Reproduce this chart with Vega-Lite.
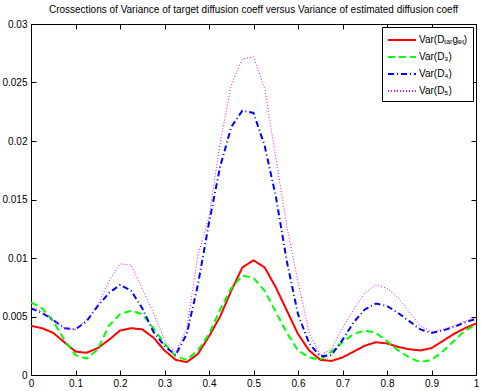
{
  "$schema": "https://vega.github.io/schema/vega-lite/v6.json",
  "width": 445,
  "height": 351,
  "autosize": {"type": "none"},
  "padding": {"left": 31, "top": 24, "right": 6, "bottom": 16},
  "title": {"text": "Crossections of Variance of target diffusion coeff versus Variance of estimated diffusion coeff", "fontSize": 10, "fontWeight": "normal", "font": "Liberation Sans", "color": "black", "offset": 4},
  "config": {
    "view": {"stroke": "black", "strokeWidth": 1},
    "axis": {"grid": false, "domainColor": "black", "tickColor": "black", "tickSize": -5, "labelFont": "Liberation Sans", "labelFontSize": 10, "labelColor": "black", "title": null, "domain": true},
    "legend": {"labelFont": "Liberation Sans", "labelFontSize": 10, "labelColor": "black"}
  },
  "datasets": {
    "d": [
      {"x":0,"v":0.0042,"s":"Var(Dtarget)"},{"x":0.025,"v":0.0040,"s":"Var(Dtarget)"},{"x":0.05,"v":0.0036,"s":"Var(Dtarget)"},{"x":0.075,"v":0.0028,"s":"Var(Dtarget)"},{"x":0.1,"v":0.0020,"s":"Var(Dtarget)"},{"x":0.125,"v":0.0019,"s":"Var(Dtarget)"},{"x":0.15,"v":0.0023,"s":"Var(Dtarget)"},{"x":0.175,"v":0.0030,"s":"Var(Dtarget)"},{"x":0.2,"v":0.0038,"s":"Var(Dtarget)"},{"x":0.225,"v":0.0040,"s":"Var(Dtarget)"},{"x":0.25,"v":0.0039,"s":"Var(Dtarget)"},{"x":0.275,"v":0.0032,"s":"Var(Dtarget)"},{"x":0.3,"v":0.0021,"s":"Var(Dtarget)"},{"x":0.325,"v":0.0013,"s":"Var(Dtarget)"},{"x":0.35,"v":0.0011,"s":"Var(Dtarget)"},{"x":0.375,"v":0.0018,"s":"Var(Dtarget)"},{"x":0.4,"v":0.0033,"s":"Var(Dtarget)"},{"x":0.425,"v":0.0050,"s":"Var(Dtarget)"},{"x":0.45,"v":0.0072,"s":"Var(Dtarget)"},{"x":0.475,"v":0.0092,"s":"Var(Dtarget)"},{"x":0.5,"v":0.0098,"s":"Var(Dtarget)"},{"x":0.525,"v":0.0092,"s":"Var(Dtarget)"},{"x":0.55,"v":0.0075,"s":"Var(Dtarget)"},{"x":0.575,"v":0.0055,"s":"Var(Dtarget)"},{"x":0.6,"v":0.0035,"s":"Var(Dtarget)"},{"x":0.625,"v":0.0021,"s":"Var(Dtarget)"},{"x":0.65,"v":0.0013,"s":"Var(Dtarget)"},{"x":0.675,"v":0.0012,"s":"Var(Dtarget)"},{"x":0.7,"v":0.0015,"s":"Var(Dtarget)"},{"x":0.725,"v":0.0020,"s":"Var(Dtarget)"},{"x":0.75,"v":0.0025,"s":"Var(Dtarget)"},{"x":0.775,"v":0.0028,"s":"Var(Dtarget)"},{"x":0.8,"v":0.0027,"s":"Var(Dtarget)"},{"x":0.825,"v":0.0024,"s":"Var(Dtarget)"},{"x":0.85,"v":0.0022,"s":"Var(Dtarget)"},{"x":0.875,"v":0.0021,"s":"Var(Dtarget)"},{"x":0.9,"v":0.0023,"s":"Var(Dtarget)"},{"x":0.925,"v":0.0029,"s":"Var(Dtarget)"},{"x":0.95,"v":0.0035,"s":"Var(Dtarget)"},{"x":0.975,"v":0.0040,"s":"Var(Dtarget)"},{"x":1,"v":0.0044,"s":"Var(Dtarget)"},
      {"x":0,"v":0.0062,"s":"Var(D3)"},{"x":0.025,"v":0.0057,"s":"Var(D3)"},{"x":0.05,"v":0.0046,"s":"Var(D3)"},{"x":0.075,"v":0.0030,"s":"Var(D3)"},{"x":0.1,"v":0.0017,"s":"Var(D3)"},{"x":0.125,"v":0.0014,"s":"Var(D3)"},{"x":0.15,"v":0.0022,"s":"Var(D3)"},{"x":0.175,"v":0.0042,"s":"Var(D3)"},{"x":0.2,"v":0.0052,"s":"Var(D3)"},{"x":0.225,"v":0.0055,"s":"Var(D3)"},{"x":0.25,"v":0.0052,"s":"Var(D3)"},{"x":0.275,"v":0.0040,"s":"Var(D3)"},{"x":0.3,"v":0.0027,"s":"Var(D3)"},{"x":0.325,"v":0.0016,"s":"Var(D3)"},{"x":0.35,"v":0.0013,"s":"Var(D3)"},{"x":0.375,"v":0.0021,"s":"Var(D3)"},{"x":0.4,"v":0.0035,"s":"Var(D3)"},{"x":0.425,"v":0.0056,"s":"Var(D3)"},{"x":0.45,"v":0.0074,"s":"Var(D3)"},{"x":0.475,"v":0.0085,"s":"Var(D3)"},{"x":0.5,"v":0.0083,"s":"Var(D3)"},{"x":0.525,"v":0.0072,"s":"Var(D3)"},{"x":0.55,"v":0.0054,"s":"Var(D3)"},{"x":0.575,"v":0.0036,"s":"Var(D3)"},{"x":0.6,"v":0.0021,"s":"Var(D3)"},{"x":0.625,"v":0.0015,"s":"Var(D3)"},{"x":0.65,"v":0.0013,"s":"Var(D3)"},{"x":0.675,"v":0.0020,"s":"Var(D3)"},{"x":0.7,"v":0.0028,"s":"Var(D3)"},{"x":0.725,"v":0.0035,"s":"Var(D3)"},{"x":0.75,"v":0.0038,"s":"Var(D3)"},{"x":0.775,"v":0.0036,"s":"Var(D3)"},{"x":0.8,"v":0.0029,"s":"Var(D3)"},{"x":0.825,"v":0.0021,"s":"Var(D3)"},{"x":0.85,"v":0.0015,"s":"Var(D3)"},{"x":0.875,"v":0.0011,"s":"Var(D3)"},{"x":0.9,"v":0.0013,"s":"Var(D3)"},{"x":0.925,"v":0.0020,"s":"Var(D3)"},{"x":0.95,"v":0.0029,"s":"Var(D3)"},{"x":0.975,"v":0.0038,"s":"Var(D3)"},{"x":1,"v":0.0043,"s":"Var(D3)"},
      {"x":0,"v":0.0057,"s":"Var(D4)"},{"x":0.025,"v":0.0053,"s":"Var(D4)"},{"x":0.05,"v":0.0047,"s":"Var(D4)"},{"x":0.075,"v":0.0040,"s":"Var(D4)"},{"x":0.1,"v":0.0039,"s":"Var(D4)"},{"x":0.125,"v":0.0046,"s":"Var(D4)"},{"x":0.15,"v":0.0059,"s":"Var(D4)"},{"x":0.175,"v":0.0070,"s":"Var(D4)"},{"x":0.2,"v":0.0077,"s":"Var(D4)"},{"x":0.225,"v":0.0072,"s":"Var(D4)"},{"x":0.25,"v":0.0057,"s":"Var(D4)"},{"x":0.275,"v":0.0037,"s":"Var(D4)"},{"x":0.3,"v":0.0025,"s":"Var(D4)"},{"x":0.325,"v":0.0017,"s":"Var(D4)"},{"x":0.35,"v":0.0035,"s":"Var(D4)"},{"x":0.375,"v":0.0077,"s":"Var(D4)"},{"x":0.4,"v":0.0130,"s":"Var(D4)"},{"x":0.425,"v":0.0178,"s":"Var(D4)"},{"x":0.45,"v":0.0212,"s":"Var(D4)"},{"x":0.475,"v":0.0226,"s":"Var(D4)"},{"x":0.5,"v":0.0224,"s":"Var(D4)"},{"x":0.525,"v":0.0196,"s":"Var(D4)"},{"x":0.55,"v":0.0153,"s":"Var(D4)"},{"x":0.575,"v":0.0097,"s":"Var(D4)"},{"x":0.6,"v":0.0052,"s":"Var(D4)"},{"x":0.625,"v":0.0027,"s":"Var(D4)"},{"x":0.65,"v":0.0016,"s":"Var(D4)"},{"x":0.675,"v":0.0017,"s":"Var(D4)"},{"x":0.7,"v":0.0030,"s":"Var(D4)"},{"x":0.725,"v":0.0045,"s":"Var(D4)"},{"x":0.75,"v":0.0056,"s":"Var(D4)"},{"x":0.775,"v":0.0061,"s":"Var(D4)"},{"x":0.8,"v":0.0059,"s":"Var(D4)"},{"x":0.825,"v":0.0053,"s":"Var(D4)"},{"x":0.85,"v":0.0046,"s":"Var(D4)"},{"x":0.875,"v":0.0039,"s":"Var(D4)"},{"x":0.9,"v":0.0036,"s":"Var(D4)"},{"x":0.925,"v":0.0038,"s":"Var(D4)"},{"x":0.95,"v":0.0041,"s":"Var(D4)"},{"x":0.975,"v":0.0045,"s":"Var(D4)"},{"x":1,"v":0.0048,"s":"Var(D4)"},
      {"x":0,"v":0.0059,"s":"Var(D5)"},{"x":0.025,"v":0.0054,"s":"Var(D5)"},{"x":0.05,"v":0.0047,"s":"Var(D5)"},{"x":0.075,"v":0.0040,"s":"Var(D5)"},{"x":0.1,"v":0.0039,"s":"Var(D5)"},{"x":0.125,"v":0.0047,"s":"Var(D5)"},{"x":0.15,"v":0.0060,"s":"Var(D5)"},{"x":0.175,"v":0.0080,"s":"Var(D5)"},{"x":0.2,"v":0.0095,"s":"Var(D5)"},{"x":0.225,"v":0.0094,"s":"Var(D5)"},{"x":0.25,"v":0.0074,"s":"Var(D5)"},{"x":0.275,"v":0.0053,"s":"Var(D5)"},{"x":0.3,"v":0.0030,"s":"Var(D5)"},{"x":0.325,"v":0.0019,"s":"Var(D5)"},{"x":0.35,"v":0.0040,"s":"Var(D5)"},{"x":0.375,"v":0.0102,"s":"Var(D5)"},{"x":0.4,"v":0.0135,"s":"Var(D5)"},{"x":0.425,"v":0.0198,"s":"Var(D5)"},{"x":0.45,"v":0.0248,"s":"Var(D5)"},{"x":0.475,"v":0.0270,"s":"Var(D5)"},{"x":0.5,"v":0.0272,"s":"Var(D5)"},{"x":0.525,"v":0.0245,"s":"Var(D5)"},{"x":0.55,"v":0.0186,"s":"Var(D5)"},{"x":0.575,"v":0.0127,"s":"Var(D5)"},{"x":0.6,"v":0.0080,"s":"Var(D5)"},{"x":0.625,"v":0.0036,"s":"Var(D5)"},{"x":0.65,"v":0.0017,"s":"Var(D5)"},{"x":0.675,"v":0.0022,"s":"Var(D5)"},{"x":0.7,"v":0.0040,"s":"Var(D5)"},{"x":0.725,"v":0.0056,"s":"Var(D5)"},{"x":0.75,"v":0.0070,"s":"Var(D5)"},{"x":0.775,"v":0.0077,"s":"Var(D5)"},{"x":0.8,"v":0.0074,"s":"Var(D5)"},{"x":0.825,"v":0.0066,"s":"Var(D5)"},{"x":0.85,"v":0.0054,"s":"Var(D5)"},{"x":0.875,"v":0.0042,"s":"Var(D5)"},{"x":0.9,"v":0.0037,"s":"Var(D5)"},{"x":0.925,"v":0.0039,"s":"Var(D5)"},{"x":0.95,"v":0.0042,"s":"Var(D5)"},{"x":0.975,"v":0.0046,"s":"Var(D5)"},{"x":1,"v":0.0049,"s":"Var(D5)"}
    ]
  },
  "data": {"name": "d"},
  "layer": [
    {
      "mark": {"type": "line", "clip": true},
      "encoding": {
        "x": {"field": "x", "type": "quantitative", "scale": {"domain": [0, 1], "nice": false}, "axis": {"orient": "bottom", "values": [0,0.1,0.2,0.3,0.4,0.5,0.6,0.7,0.8,0.9,1], "format": "~g", "labelPadding": 8, "labelFlush": false}},
        "y": {"field": "v", "type": "quantitative", "scale": {"domain": [0, 0.03], "nice": false}, "axis": {"orient": "left", "values": [0,0.005,0.01,0.015,0.02,0.025,0.03], "format": "~g", "labelPadding": 9, "labelFlush": false}},
        "color": {"field": "s", "type": "nominal", "sort": null, "scale": {"domain": ["Var(Dtarget)","Var(D3)","Var(D4)","Var(D5)"], "range": ["#ff0000","#00ff00","#0000ff","#ff00ff"]},
          "legend": {"title": null, "orient": "top-right", "offset": 3, "strokeColor": "black", "fillColor": "white", "padding": 5, "symbolType": "M-1,0H3", "symbolSize": 196, "symbolStrokeWidth": 2, "labelOffset": 16, "rowPadding": 4,
            "labelExpr": "datum.label == 'Var(Dtarget)' ? 'Var(Dₜₐᵣgₑₜ)' : datum.label == 'Var(D3)' ? 'Var(D₃)' : datum.label == 'Var(D4)' ? 'Var(D₄)' : 'Var(D₅)'"}},
        "strokeDash": {"field": "s", "type": "nominal", "sort": null, "scale": {"domain": ["Var(Dtarget)","Var(D3)","Var(D4)","Var(D5)"], "range": [[1,0],[7,4],[6,3,1,3],[1,2]]}, "legend": null},
        "strokeWidth": {"condition": {"test": "datum.s === 'Var(D5)'", "value": 1}, "value": 2}
      }
    },
    {
      "mark": {"type": "line", "opacity": 0},
      "encoding": {
        "x": {"field": "x", "type": "quantitative", "scale": {"domain": [0, 1], "nice": false}, "axis": {"orient": "top", "values": [0,0.1,0.2,0.3,0.4,0.5,0.6,0.7,0.8,0.9,1], "labels": false}},
        "y": {"field": "v", "type": "quantitative", "scale": {"domain": [0, 0.03], "nice": false}, "axis": {"orient": "right", "values": [0,0.005,0.01,0.015,0.02,0.025,0.03], "labels": false}},
        "detail": {"field": "s"}
      }
    }
  ],
  "resolve": {"axis": {"x": "independent", "y": "independent"}}
}
